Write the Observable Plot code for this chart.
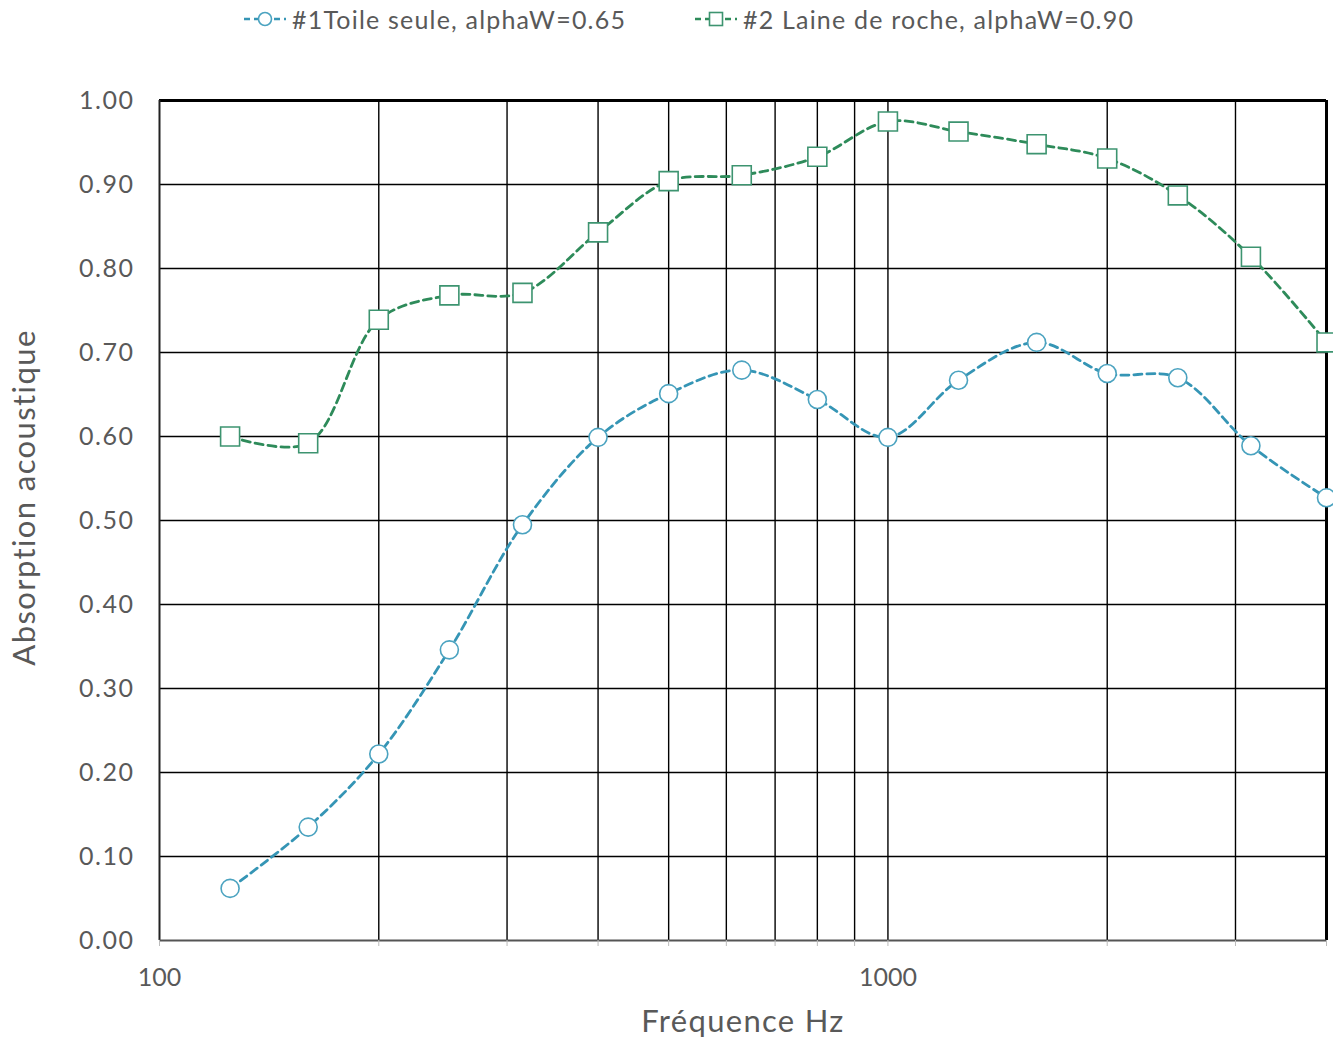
<!DOCTYPE html>
<html>
<head>
<meta charset="utf-8">
<script src="https://cdn.jsdelivr.net/npm/d3@7"></script>
<script src="https://cdn.jsdelivr.net/npm/@observablehq/plot@0.6"></script>
<style>
  body { margin: 0; background: #fff; font-family: Lato, "Open Sans", sans-serif; }
  #legend { position: relative; width: 1333px; height: 45px; color: #595959; font-size: 25px; letter-spacing: 1.2px; }
  .item { position: absolute; top: 4px; display: flex; align-items: center; white-space: nowrap; }
  .item svg { margin-right: 5px; }
  g[aria-label="y-axis tick label"] text { letter-spacing: 1.5px; }
  .xtitle { letter-spacing: 1.3px; }
  .ytitle { letter-spacing: 1.4px; }
</style>
</head>
<body>
<div id="legend"></div>
<div id="chart"></div>
<script>
// ---- data ----
const frequencies = [125, 160, 200, 250, 315, 400, 500, 630, 800, 1000, 1250, 1600, 2000, 2500, 3150, 4000];
const toileSeule = [0.062, 0.135, 0.222, 0.346, 0.495, 0.599, 0.651, 0.679, 0.644, 0.599, 0.667, 0.712, 0.675, 0.670, 0.589, 0.527];
const laineRoche = [0.600, 0.592, 0.739, 0.768, 0.771, 0.843, 0.904, 0.911, 0.933, 0.975, 0.963, 0.948, 0.931, 0.887, 0.814, 0.712];
const seriesNames = ["#1Toile seule, alphaW=0.65", "#2 Laine de roche, alphaW=0.90"];
const gridFrequencies = [200, 300, 400, 500, 600, 700, 800, 900, 1000, 2000, 3000, 4000];
const xTickLabels = [100, 1000];
const yTicks = [0, 0.1, 0.2, 0.3, 0.4, 0.5, 0.6, 0.7, 0.8, 0.9, 1.0];
const xTitle = "Fréquence Hz";
const yTitle = "Absorption acoustique";

const blueLine = "#3595b5", blueMark = "#4ba3c0";
const greenLine = "#2e8b5a", greenMark = "#3d9470";

const d1 = frequencies.map((f, i) => ({f, v: toileSeule[i]}));
const d2 = frequencies.map((f, i) => ({f, v: laineRoche[i]}));

// ---- legend ----
const legend = document.getElementById("legend");
function legendItem(left, name, color, markColor, shape) {
  const div = document.createElement("div");
  div.className = "item";
  div.style.left = left + "px";
  const mark = shape === "circle"
    ? `<circle cx="22" cy="14" r="6.5" fill="white" stroke="${markColor}" stroke-width="1.6"/>`
    : `<rect x="15.5" y="7.5" width="13" height="13" fill="white" stroke="${markColor}" stroke-width="1.6"/>`;
  div.innerHTML = `<svg width="44" height="28"><line x1="1" x2="43" y1="14" y2="14" stroke="${color}" stroke-width="2.5" stroke-dasharray="6,4"/>${mark}</svg><span>${name}</span>`;
  legend.appendChild(div);
}
legendItem(243, seriesNames[0], blueLine, blueMark, "circle");
legendItem(694, seriesNames[1], greenLine, greenMark, "square");

// ---- chart ----
const chart = Plot.plot({
  width: 1333,
  height: 999,
  marginTop: 55,
  marginBottom: 104,
  marginLeft: 159,
  marginRight: 7,
  style: {fontFamily: "Lato, 'Open Sans', sans-serif", fontSize: "25px", color: "#595959", background: "white"},
  x: {type: "log", domain: [100, 4000]},
  y: {domain: [0, 1]},
  marks: [
    Plot.ruleY(yTicks.filter(d => d > 0 && d < 1), {stroke: "#000", strokeWidth: 1.4}),
    Plot.ruleX(gridFrequencies.filter(d => d < 4000), {stroke: "#000", strokeWidth: 1.4}),
    Plot.ruleY([1], {stroke: "#000", strokeWidth: 3}),
    Plot.ruleX([4000], {stroke: "#000", strokeWidth: 3}),
    Plot.ruleX([100], {stroke: "#222", strokeWidth: 2}),
    Plot.ruleY([0], {stroke: "#555", strokeWidth: 2}),
    Plot.axisX({ticks: [100, ...gridFrequencies], tickSize: 6, tickFormat: () => "", stroke: "#bbb", label: null}),
    Plot.axisX({ticks: xTickLabels, tickSize: 0, tickPadding: 28, tickFormat: d => String(d), label: null}),
    Plot.axisY({ticks: yTicks, tickSize: 0, tickPadding: 25, tickFormat: d3.format(".2f"), label: null}),
    Plot.line(d1, {x: "f", y: "v", stroke: blueLine, strokeWidth: 2.8, strokeDasharray: "8,5", curve: "catmull-rom"}),
    Plot.line(d2, {x: "f", y: "v", stroke: greenLine, strokeWidth: 2.8, strokeDasharray: "8,5", curve: "catmull-rom"}),
    Plot.dot(d1, {x: "f", y: "v", symbol: "circle", r: 9, fill: "white", stroke: blueMark, strokeWidth: 1.6}),
    Plot.dot(d2, {x: "f", y: "v", symbol: "square", r: 10.7, fill: "white", stroke: greenMark, strokeWidth: 1.6}),
    Plot.text([xTitle], {frameAnchor: "bottom", dy: 82, fontSize: 31, fill: "#595959", lineAnchor: "middle", textAnchor: "middle", className: "xtitle"}),
    Plot.text([yTitle], {frameAnchor: "left", dx: -134, dy: -23, rotate: -90, fontSize: 31, fill: "#595959", lineAnchor: "middle", textAnchor: "middle", className: "ytitle"})
  ]
});
d3.select(chart).selectAll(".xtitle text, text.xtitle").style("letter-spacing", "1.3px");
d3.select(chart).selectAll(".ytitle text, text.ytitle").style("letter-spacing", "1.4px");
document.getElementById("chart").appendChild(chart);
</script>
</body>
</html>
